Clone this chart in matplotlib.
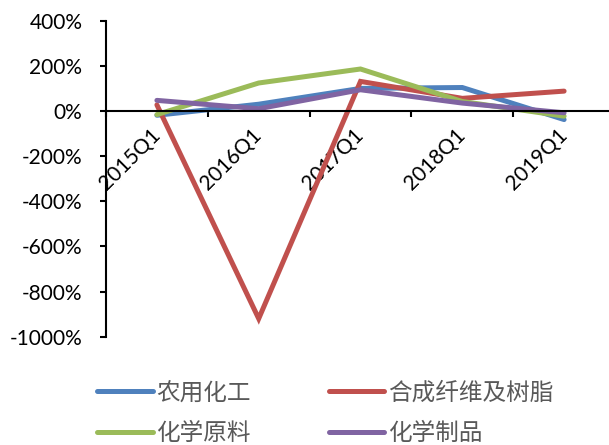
import matplotlib
matplotlib.use("Agg")
import matplotlib.pyplot as plt
from matplotlib.ticker import FixedLocator, FuncFormatter

# Quarter labels and growth rates (%) per sub-sector
quarters = ["2015Q1", "2016Q1", "2017Q1", "2018Q1", "2019Q1"]
agro_chem = [-19, 30, 100, 104, -38]          # 农用化工
fiber_resin = [27, -920, 131, 56, 88]         # 合成纤维及树脂
raw_chem = [-16, 124, 186, 42, -23]           # 化学原料
chem_products = [47, 10, 94, 35, -8]          # 化学制品

series_names = ["农用化工", "合成纤维及树脂", "化学原料", "化学制品"]
series_values = [agro_chem, fiber_resin, raw_chem, chem_products]
colors = ["#4F81BD", "#C0504D", "#9BBB59", "#8064A2"]

W, H = 609, 445
fig = plt.figure(figsize=(W / 100, H / 100), dpi=100)
ax = fig.add_axes([106 / W, 1 - 336.7 / H, (615 - 106) / W, (336.7 - 20.7) / H])

xs = list(range(len(quarters)))
lines = []
for name, vals, c in zip(series_names, series_values, colors):
    ln, = ax.plot(xs, vals, color=c, lw=3.6, solid_capstyle="round",
                  solid_joinstyle="miter", label=name)
    lines.append(ln)

ax.set_xlim(-0.5, len(quarters) - 0.5)
ax.set_ylim(-1000, 400)

# y axis
ax.yaxis.set_major_locator(FixedLocator(range(-1000, 401, 200)))
ax.yaxis.set_major_formatter(FuncFormatter(lambda v, p: f"{int(v)}%"))
ax.tick_params(axis="y", direction="out", length=4, width=1.5, pad=13,
               labelsize=15, labelcolor="black")

# x axis sits on the zero line
ax.spines["bottom"].set_position(("data", 0))
ax.spines["top"].set_visible(False)
ax.spines["right"].set_visible(False)
for s in ("left", "bottom"):
    ax.spines[s].set_linewidth(1.5)

ax.set_xticks(xs)
ax.set_xticklabels(quarters)
ax.set_xticks([i - 0.5 for i in range(len(quarters) + 1)], minor=True)
ax.tick_params(axis="x", which="major", length=0, pad=15, labelsize=15)
ax.tick_params(axis="x", which="minor", direction="out", length=4, width=1.5)
for lbl in ax.get_xticklabels():
    lbl.set_rotation(45)
    lbl.set_ha("right")
    lbl.set_va("center")
    lbl.set_rotation_mode("anchor")

for lbl in ax.get_yticklabels() + ax.get_xticklabels():
    lbl.set_family("Lato")

# legend filled row by row
order = [0, 2, 1, 3]
leg = fig.legend(handles=[lines[i] for i in order], loc="upper left", ncol=2,
                 bbox_to_anchor=(76 / W, 1 - 360 / H),
                 frameon=False, handlelength=2.35, handletextpad=0.15,
                 columnspacing=3.3, labelspacing=0.75,
                 prop={"family": ["Noto Sans CJK SC", "DejaVu Sans"], "size": 17})
for t in leg.get_texts():
    t.set_color("#595959")

fig.savefig("out.png", dpi=100)
